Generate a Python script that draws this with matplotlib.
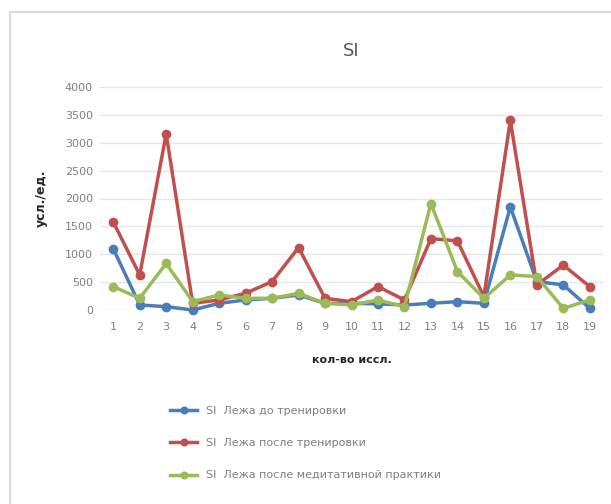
import matplotlib
matplotlib.use("Agg")
import matplotlib.pyplot as plt
from matplotlib.patches import Rectangle

# данные
x = list(range(1, 20))
before_training = [1100, 90, 60, 0, 120, 180, 210, 270, 120, 120, 110, 90, 120, 150, 120, 1850, 510, 450, 30]
after_training = [1580, 630, 3160, 120, 180, 300, 510, 1120, 210, 150, 420, 180, 1280, 1240, 240, 3400, 450, 805, 420]
after_meditation = [420, 210, 835, 150, 270, 210, 210, 300, 120, 90, 180, 60, 1910, 690, 210, 630, 600, 30, 180]

labels = ["SI  Лежа до тренировки",
          "SI  Лежа после тренировки",
          "SI  Лежа после медитативной практики"]
colors = ["#4a7ebb", "#c0504d", "#9bbb59"]

fig = plt.figure(figsize=(6.11, 5.04), dpi=100)
W, H = 611, 504

# рамка области диаграммы (видны только левый и верхний края)
fig.patches.append(Rectangle((10 / W, -0.05), 1, 1.05 - 12 / H, transform=fig.transFigure,
                             fill=False, edgecolor="#d9d9d9", linewidth=1.5))

ax = fig.add_axes([100 / W, 1 - 310 / H, 503 / W, 223 / H])

for ys, c, lab in zip([before_training, after_training, after_meditation], colors, labels):
    ax.plot(x, ys, color=c, linewidth=2.5, marker="o", markersize=6, label=lab, clip_on=False)

ax.set_xlim(0.5, 19.5)
ax.set_ylim(0, 4000)
ax.set_xticks(x)
ax.set_yticks(range(0, 4001, 500))
ax.grid(axis="y", color="#e6e6e6", linewidth=1)
ax.set_axisbelow(True)
for s in ax.spines.values():
    s.set_visible(False)
ax.tick_params(length=0, labelsize=8, labelcolor="#808080")
ax.tick_params(axis="x", pad=9)
ax.tick_params(axis="y", pad=5)

ax.set_title("SI", fontsize=13, color="#595959", pad=22)
ax.set_ylabel("усл./ед.", fontsize=9, fontweight="bold", color="#262626", labelpad=12)
ax.set_xlabel("кол-во иссл.", fontsize=8, fontweight="bold", color="#262626", labelpad=16)

fig.legend(loc="upper center", bbox_to_anchor=(0.5, 1 - 396 / H), ncol=1, frameon=False,
           fontsize=8, labelcolor="#808080", handlelength=2.5, labelspacing=2.0,
           markerscale=0.8)

fig.savefig("out.png", dpi=100)
